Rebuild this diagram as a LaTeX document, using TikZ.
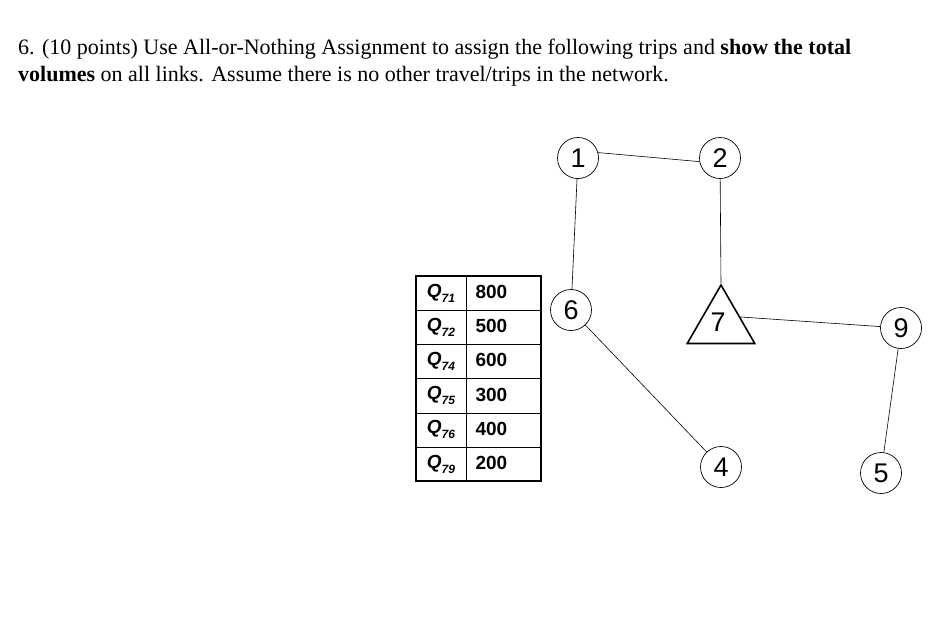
\documentclass[tikz,border=0pt]{standalone}
\usepackage{fontspec}
\setmainfont{Liberation Serif}
\newfontfamily\arial{Liberation Sans}
\usetikzlibrary{shapes.geometric}
\begin{document}
\begin{tikzpicture}[x=1pt,y=-1pt,
  nd/.style={circle,draw,line width=0.7pt,minimum size=41pt,inner sep=0pt,font=\arial\fontsize{27}{27}\selectfont},
  tri/.style={regular polygon,regular polygon sides=3,draw,line width=1.6pt,minimum size=78pt,inner sep=0pt},
  ln/.style={line width=0.6pt},
  cell/.style={font=\arial\bfseries\fontsize{19}{19}\selectfont}]
\useasboundingbox (0,0) rectangle (936,616);
\node[anchor=base west,font=\fontsize{22}{27}\selectfont,inner sep=0pt] (title) at (18,54)
 {6. (10 points) Use All-or-Nothing Assignment to assign the following trips and \textbf{show the total}};
\node[anchor=base west,font=\fontsize{22}{27}\selectfont,inner sep=0pt] (title2) at (18,81)
 {\textbf{volumes} on all links. Assume there is no other travel/trips in the network.};
% network
\node[nd] (n1) at (578,158) {1};
\node[nd] (n2) at (720,158) {2};
\node[nd] (n6) at (571,310) {6};
\node[tri] (n7) at (721,324) {};
\node (l7) at (718,322) {\arial\fontsize{27}{27}\selectfont 7};
\node[nd] (n9) at (901,328) {9};
\node[nd] (n4) at (721,467) {4};
\node[nd] (n5) at (881,473) {5};
\draw[ln] (n1.15) -- (n2.190);
\draw[ln] (n1) -- (n6);
\draw[ln] (n2) -- (n7.north);
\draw[ln] (n7.20) -- (n9);
\draw[ln] (n6) -- (n4);
\draw[ln] (n9) -- (n5);
% table
\draw[line width=2pt] (416,276) rectangle (541,481);
\draw[line width=0.6pt] (466,276) -- (466,481);
\foreach \i in {1,...,5} \draw[line width=0.6pt] (416,{276+\i*34.2}) -- (541,{276+\i*34.2});
\foreach \s/\v [count=\i from 0] in {71/800,72/500,74/600,75/300,76/400,79/200}{
  \node[cell] (q\i) at (441,{293+\i*34.2}) {\textit{Q}\raisebox{-0.5ex}{\fontsize{12}{12}\selectfont\textit{\s}}};
  \node[cell,anchor=west] (v\i) at (472,{292+\i*34.2}) {\v};
}
\end{tikzpicture}
\end{document}
